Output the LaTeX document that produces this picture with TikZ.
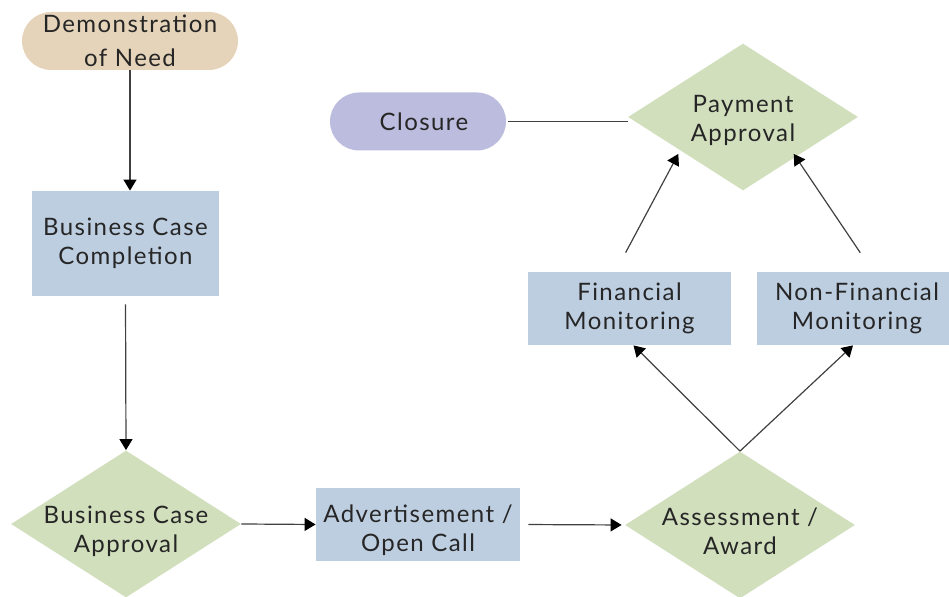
\documentclass[tikz,border=0pt]{standalone}
\usepackage{fontspec}
\setmainfont{Lato}[LetterSpace=6]
\usetikzlibrary{shapes.geometric,arrows.meta}

\definecolor{needtan}{HTML}{E6D4BA}
\definecolor{taskblue}{HTML}{BECEE1}
\definecolor{decgreen}{HTML}{D1DFBD}
\definecolor{endlilac}{HTML}{BCBCDE}

\tikzset{
  lbl/.style={align=center,font=\fontsize{12}{14.5}\selectfont,text=black!85},
  pill/.style={rounded corners=14.5pt,inner sep=0pt,minimum height=29pt},
  task/.style={fill=taskblue,inner sep=0pt},
  decision/.style={diamond,fill=decgreen,inner sep=0pt,minimum width=115pt,minimum height=73.5pt},
  link/.style={draw=black!75,line width=0.6pt},
  flow/.style={link,-{Triangle[width=6.5pt,length=5.5pt,color=black]}}
}

\begin{document}
\begin{tikzpicture}[x=0.5pt,y=-0.5pt,every label/.style={lbl}]
\useasboundingbox (0,0) rectangle (949,597);

% start and end
\node[pill,fill=needtan,minimum width=108pt,
  label={[font=\fontsize{12}{17}\selectfont]center:Demonstration\\of Need}] (need) at (130,41) {};
\node[pill,fill=endlilac,minimum width=88pt,
  label={[xshift=3pt]center:Closure}] (closure) at (418,121.5) {};

% business case
\node[task,minimum width=93.5pt,minimum height=52.5pt,
  label={center:Business Case\\Completion}] (bcc) at (125.5,243.5) {};
\node[decision,label={[yshift=-3.5pt]center:Business Case\\Approval}] (bca) at (126,524) {};

% call and award
\node[task,minimum width=102pt,minimum height=36.5pt,
  label={[yshift=-3pt]center:Advertisement /\\Open Call}] (adv) at (418,524.5) {};
\node[decision,label={[yshift=-3pt]center:Assessment /\\Award}] (assess) at (740,525) {};

% monitoring
\node[task,minimum width=101.5pt,minimum height=36.5pt,
  label={center:Financial\\Monitoring}] (fin) at (629.5,308.5) {};
\node[task,minimum width=96pt,minimum height=36.5pt,
  label={[xshift=2pt]center:Non-Financial\\Monitoring}] (nonfin) at (853,308.5) {};
\node[decision,label={[yshift=-1.5pt]center:Payment\\Approval}] (pay) at (743,117) {};

% connectors
\draw[flow] (need.south) -- (need.south |- bcc.north);
\draw[flow,shorten <=4pt] (bcc.south) -- (bca.north);
\draw[flow] (bca.east) -- (adv.west);
\draw[flow,shorten <=4pt,shorten >=1.5pt] (adv.east) -- (assess.west);
\draw[flow] (assess.north) -- ([xshift=2pt]fin.south);
\draw[flow] (assess.north) -- (nonfin.south);
\draw[flow,shorten <=10.75pt] ([xshift=-7pt]fin.north) -- ([xshift=-3.5pt]pay.south west);
\draw[flow,shorten <=11.4pt] ([xshift=10pt]nonfin.north) -- ([xshift=-3.5pt]pay.south east);
\draw[link,shorten <=1pt] (closure.east) -- (closure.east -| pay.west);

\end{tikzpicture}
\end{document}
